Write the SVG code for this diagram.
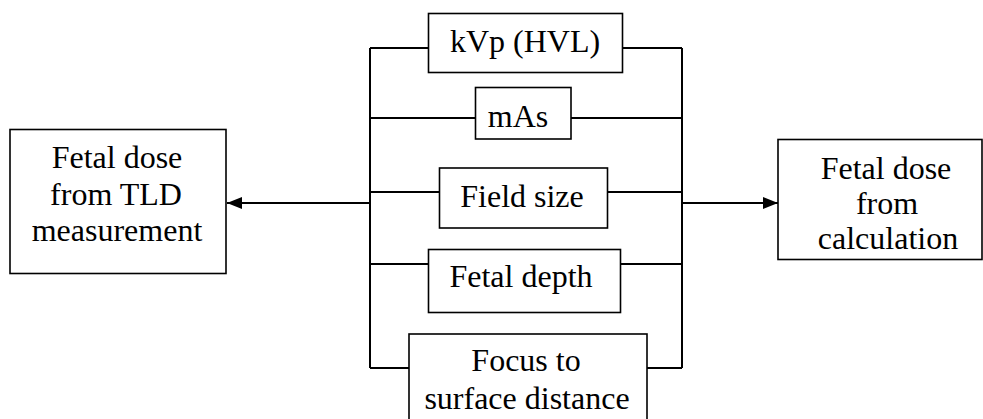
<svg xmlns="http://www.w3.org/2000/svg" width="983" height="419" viewBox="0 0 983 419">
<defs>
<style>
.box{fill:#fff;stroke:#000;stroke-width:1.6}
.ln{fill:none;stroke:#000;stroke-width:2}
text{font-family:"Liberation Serif","Times New Roman",serif;font-size:32px;fill:#000;text-anchor:middle}
</style>
<marker id="ah" markerUnits="userSpaceOnUse" markerWidth="16" markerHeight="12" refX="15" refY="6" orient="auto">
<path d="M0,0 L15,6 L0,12 Z" fill="#000"/>
</marker>
</defs>
<rect width="983" height="419" fill="#fff"/>
<g id="connectors">
<path class="ln" d="M370,48 V368 M682,48 V368"/>
<path class="ln" d="M370,48 H428 M623,48 H682"/>
<path class="ln" d="M370,118 H475 M571,118 H682"/>
<path class="ln" d="M370,192 H439 M608,192 H682"/>
<path class="ln" d="M370,264 H428 M620,264 H682"/>
<path class="ln" d="M370,368 H409 M647,368 H682"/>
<path class="ln" d="M370,203 H227" marker-end="url(#ah)"/>
<path class="ln" d="M682,203 H778" marker-end="url(#ah)"/>
</g>
<g id="n-kvp">
<rect class="box" x="428.5" y="13.5" width="194" height="59"/>
<text x="525" y="52">kVp (HVL)</text>
</g>
<g id="n-mas">
<rect class="box" x="475.5" y="87.5" width="95.5" height="51.5"/>
<text x="518" y="127">mAs</text>
</g>
<g id="n-field">
<rect class="box" x="439.5" y="168" width="168" height="60"/>
<text x="522" y="207">Field size</text>
</g>
<g id="n-depth">
<rect class="box" x="428.5" y="249.5" width="192" height="63"/>
<text x="521" y="287">Fetal depth</text>
</g>
<g id="n-focus">
<rect class="box" x="409" y="334" width="238" height="95"/>
<text x="526" y="371">Focus to</text>
<text x="527" y="409">surface distance</text>
</g>
<g id="n-tld">
<rect class="box" x="10" y="129.5" width="216" height="144"/>
<text x="117" y="168">Fetal dose</text>
<text x="116" y="205">from TLD</text>
<text x="117" y="241">measurement</text>
</g>
<g id="n-calc">
<rect class="box" x="778" y="139.5" width="204" height="120"/>
<text x="886" y="179">Fetal dose</text>
<text x="887" y="214">from</text>
<text x="888" y="249">calculation</text>
</g>
</svg>
